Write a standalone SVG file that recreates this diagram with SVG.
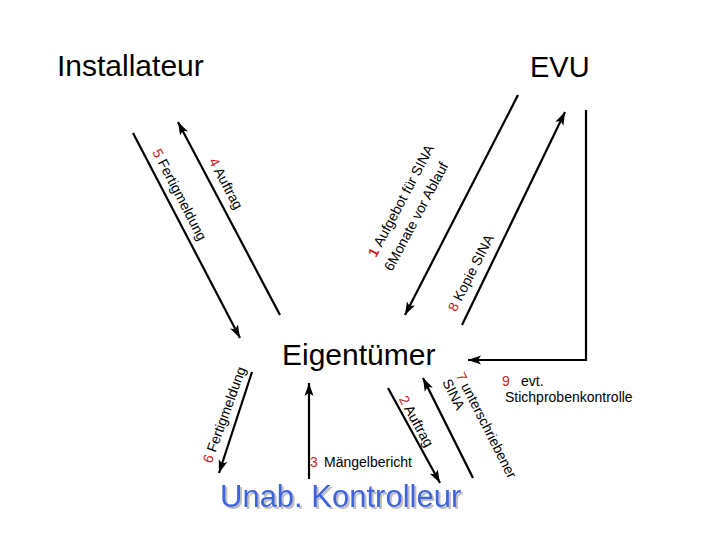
<svg xmlns="http://www.w3.org/2000/svg" width="720" height="540" viewBox="0 0 720 540">
<defs>
<marker id="ah" markerUnits="userSpaceOnUse" markerWidth="14" markerHeight="12" viewBox="0 0 14 12" refX="13" refY="6" orient="auto">
<path d="M0,1.5 L13,6 L0,10.5 L3,6 Z" fill="#000"/>
</marker>
<filter id="shadow" x="-5%" y="-20%" width="110%" height="140%">
<feDropShadow dx="2" dy="2" stdDeviation="0.4" flood-color="#BEBEBE" flood-opacity="1"/>
</filter>
<style>
.ln{stroke:#000;stroke-width:2.2;fill:none}
.big{font-family:"Liberation Sans",Arial,sans-serif;fill:#000}
.lbl{font-family:"Liberation Sans",Arial,sans-serif;font-size:14px;fill:#000}
.num{font-family:"Liberation Sans",Arial,sans-serif;font-size:14px;fill:#C81E1E}
</style>
</defs>
<rect width="720" height="540" fill="#fff"/>

<g id="installateur"><text class="big" x="57" y="76" font-size="30">Installateur</text></g>
<g id="evu"><text class="big" x="530" y="77" font-size="29">EVU</text></g>
<g id="eigentuemer"><text class="big" x="282" y="365" font-size="30">Eigentümer</text></g>
<g id="kontrolleur">
<text x="220" y="507" font-size="31" font-family="Liberation Sans,Arial,sans-serif" fill="#3D63DD" filter="url(#shadow)">Unab. Kontrolleur</text>
</g>

<g id="connectors">
<line class="ln" x1="133" y1="133" x2="240" y2="338" marker-end="url(#ah)"/>
<line class="ln" x1="280" y1="315" x2="178" y2="122" marker-end="url(#ah)"/>
<line class="ln" x1="518" y1="95" x2="405" y2="315" marker-end="url(#ah)"/>
<line class="ln" x1="462" y1="325" x2="565" y2="112" marker-end="url(#ah)"/>
<polyline class="ln" points="586,110 586,360 468,360" marker-end="url(#ah)"/>
<line class="ln" x1="252" y1="372" x2="219" y2="473" marker-end="url(#ah)"/>
<line class="ln" x1="309" y1="479" x2="309" y2="383" marker-end="url(#ah)"/>
<line class="ln" x1="388" y1="388" x2="440" y2="483" marker-end="url(#ah)"/>
<line class="ln" x1="473" y1="478" x2="423" y2="378" marker-end="url(#ah)"/>
</g>

<g id="labels">
<text transform="translate(152,152) rotate(62.5)"><tspan class="num">5 </tspan><tspan class="lbl">Fertigmeldung</tspan></text>
<text transform="translate(208.5,161) rotate(62)"><tspan class="num">4 </tspan><tspan class="lbl">Auftrag</tspan></text>
<text transform="translate(376,258) rotate(-62)"><tspan class="num" font-weight="bold" font-size="15">1 </tspan><tspan class="lbl">Aufgebot für SINA</tspan></text>
<text class="lbl" transform="translate(392,272) rotate(-62)">6Monate vor Ablauf</text>
<text transform="translate(456,312.5) rotate(-63)"><tspan class="num">8 </tspan><tspan class="lbl">Kopie SINA</tspan></text>
<text transform="translate(211.5,464) rotate(-70)"><tspan class="num">6 </tspan><tspan class="lbl">Fertigmeldung</tspan></text>
<text transform="translate(398.5,399) rotate(61)"><tspan class="num">2 </tspan><tspan class="lbl">Auftrag</tspan></text>
<text transform="translate(455.5,375.5) rotate(63)"><tspan class="num">7 </tspan><tspan class="lbl">unterschriebener</tspan></text>
<text class="lbl" transform="translate(442,382) rotate(63)">SINA</text>
<text class="num" x="310" y="467">3</text>
<text class="lbl" x="324" y="467">Mängelbericht</text>
<text class="num" x="502" y="386">9</text>
<text class="lbl" x="521" y="386">evt.</text>
<text class="lbl" x="505" y="402">Stichprobenkontrolle</text>
</g>
</svg>
